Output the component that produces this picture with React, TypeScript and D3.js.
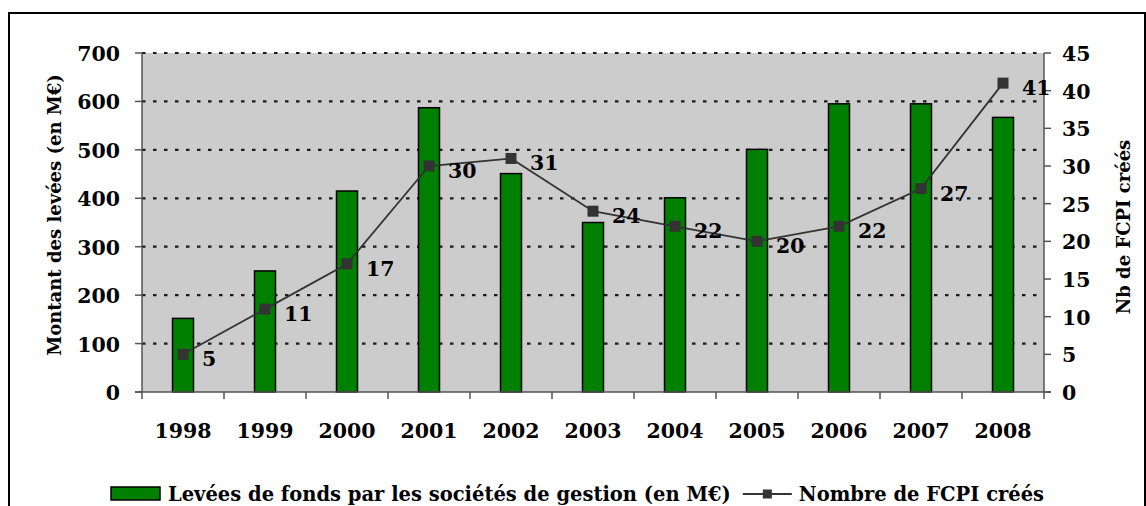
import React, { useEffect, useRef } from "react";
import * as d3 from "d3";

const years = ["1998", "1999", "2000", "2001", "2002", "2003", "2004", "2005", "2006", "2007", "2008"];
const fundsRaised = [152, 250, 415, 587, 451, 350, 401, 501, 595, 595, 567];
const fcpiCount = [5, 11, 17, 30, 31, 24, 22, 20, 22, 27, 41];
const leftTicks = [0, 100, 200, 300, 400, 500, 600, 700];
const rightTicks = [0, 5, 10, 15, 20, 25, 30, 35, 40, 45];
const barLabel = "Levées de fonds par les sociétés de gestion (en M€)";
const lineLabel = "Nombre de FCPI créés";
const leftTitle = "Montant des levées (en M€)";
const rightTitle = "Nb de FCPI créés";

const W = 1146, H = 506;
const FONT = "'DejaVu Serif', serif";
const FS = 20.5;
const FS_LEG = 19.5;
const FS_TITLE = 18;

export default function App() {
  const ref = useRef<SVGSVGElement>(null);
  useEffect(() => {
    const svg = d3.select(ref.current);
    svg.selectAll("*").remove();
    const m = { l: 142, r: 1044, t: 53, b: 392 };
    const x = d3.scaleBand().domain(years).range([m.l, m.r]).paddingInner(0).paddingOuter(0);
    const yL = d3.scaleLinear().domain([0, 700]).range([m.b, m.t]);
    const yR = d3.scaleLinear().domain([0, 45]).range([m.b, m.t]);

    svg.append("rect").attr("x", 9).attr("y", 13).attr("width", 1136).attr("height", 520)
      .attr("fill", "white").attr("stroke", "black").attr("stroke-width", 2);

    svg.append("rect").attr("x", m.l).attr("y", m.t).attr("width", m.r - m.l).attr("height", m.b - m.t)
      .attr("fill", "#cccccc");

    // grid
    svg.append("g").selectAll("line").data(leftTicks.filter(d => d > 0)).join("line")
      .attr("x1", m.l).attr("x2", m.r).attr("y1", d => yL(d)).attr("y2", d => yL(d))
      .attr("stroke", "#1a1a1a").attr("stroke-width", 2.2).attr("stroke-dasharray", "3.5,7.5");

    // bars
    const bw = 21;
    svg.append("g").selectAll("rect").data(years).join("rect")
      .attr("x", (d) => x(d)! + x.bandwidth() / 2 - bw / 2)
      .attr("y", (d, i) => yL(fundsRaised[i]))
      .attr("width", bw)
      .attr("height", (d, i) => m.b - yL(fundsRaised[i]))
      .attr("fill", "#008000").attr("stroke", "black").attr("stroke-width", 1.5);

    // axes lines
    const axisColor = "#555";
    svg.append("line").attr("x1", m.l).attr("x2", m.l).attr("y1", m.t).attr("y2", m.b).attr("stroke", axisColor).attr("stroke-width", 1.5);
    svg.append("line").attr("x1", m.r).attr("x2", m.r).attr("y1", m.t).attr("y2", m.b).attr("stroke", axisColor).attr("stroke-width", 1.5);
    svg.append("line").attr("x1", m.l - 7).attr("x2", m.r + 7).attr("y1", m.b).attr("y2", m.b).attr("stroke", axisColor).attr("stroke-width", 1.5);

    // left ticks
    const gl = svg.append("g");
    gl.selectAll("line").data(leftTicks).join("line")
      .attr("x1", m.l - 7).attr("x2", m.l).attr("y1", d => yL(d)).attr("y2", d => yL(d))
      .attr("stroke", axisColor).attr("stroke-width", 1.5);
    gl.selectAll("text").data(leftTicks).join("text")
      .attr("x", 120).attr("y", d => yL(d) + 8).attr("text-anchor", "end")
      .attr("font-family", FONT).attr("font-weight", "bold").attr("font-size", FS).text(d => d);

    // right ticks
    const gr = svg.append("g");
    gr.selectAll("line").data(rightTicks).join("line")
      .attr("x1", m.r).attr("x2", m.r + 7).attr("y1", d => yR(d)).attr("y2", d => yR(d))
      .attr("stroke", axisColor).attr("stroke-width", 1.5);
    gr.selectAll("text").data(rightTicks).join("text")
      .attr("x", 1062).attr("y", d => yR(d) + 8).attr("text-anchor", "start")
      .attr("font-family", FONT).attr("font-weight", "bold").attr("font-size", FS).text(d => d);

    // x ticks
    const boundaries = years.map(d => x(d)!).concat([m.r]);
    svg.append("g").selectAll("line").data(boundaries).join("line")
      .attr("x1", d => d).attr("x2", d => d).attr("y1", m.b).attr("y2", m.b + 7)
      .attr("stroke", axisColor).attr("stroke-width", 1.5);
    svg.append("g").selectAll("text").data(years).join("text")
      .attr("x", d => x(d)! + x.bandwidth() / 2).attr("y", 438).attr("text-anchor", "middle")
      .attr("font-family", FONT).attr("font-weight", "bold").attr("font-size", FS).text(d => d);

    // line
    const cx = (i: number) => x(years[i])! + x.bandwidth() / 2;
    const line = d3.line<number>().x((d, i) => cx(i)).y(d => yR(d));
    svg.append("path").datum(fcpiCount).attr("d", line).attr("fill", "none")
      .attr("stroke", "#333").attr("stroke-width", 1.8);
    const ms = 11;
    svg.append("g").selectAll("rect").data(fcpiCount).join("rect")
      .attr("x", (d, i) => cx(i) - ms / 2).attr("y", d => yR(d) - ms / 2)
      .attr("width", ms).attr("height", ms).attr("fill", "#333");
    svg.append("g").selectAll("text").data(fcpiCount).join("text")
      .attr("x", (d, i) => cx(i) + 19).attr("y", d => yR(d) + 12)
      .attr("font-family", FONT).attr("font-weight", "bold").attr("font-size", FS).text(d => d);

    // titles
    svg.append("text").attr("transform", `translate(61,215) rotate(-90)`).attr("text-anchor", "middle")
      .attr("font-family", FONT).attr("font-weight", "bold").attr("font-size", FS_TITLE).text(leftTitle);
    svg.append("text").attr("transform", `translate(1130,227) rotate(-90)`).attr("text-anchor", "middle")
      .attr("font-family", FONT).attr("font-weight", "bold").attr("font-size", FS_TITLE).text(rightTitle);

    // legend
    const lg = svg.append("g");
    lg.append("rect").attr("x", 111).attr("y", 487).attr("width", 49).attr("height", 13)
      .attr("fill", "#008000").attr("stroke", "black").attr("stroke-width", 1.5);
    const t1 = lg.append("text").attr("x", 168).attr("y", 501)
      .attr("font-family", FONT).attr("font-weight", "bold").attr("font-size", FS_LEG).text(barLabel);
    const w1 = (t1.node() as SVGTextElement).getComputedTextLength();
    const lx = 168 + w1 + 12;
    lg.append("line").attr("x1", lx).attr("x2", lx + 49).attr("y1", 494).attr("y2", 494)
      .attr("stroke", "#333").attr("stroke-width", 1.8);
    lg.append("rect").attr("x", lx + 24.5 - 4.5).attr("y", 494 - 4.5).attr("width", 9).attr("height", 9).attr("fill", "#333");
    lg.append("text").attr("x", lx + 56).attr("y", 501)
      .attr("font-family", FONT).attr("font-weight", "bold").attr("font-size", FS_LEG).text(lineLabel);
  }, []);
  return (
    <svg ref={ref} width={W} height={H} style={{ position: "absolute", left: 0, top: 0, background: "white" }} />
  );
}
